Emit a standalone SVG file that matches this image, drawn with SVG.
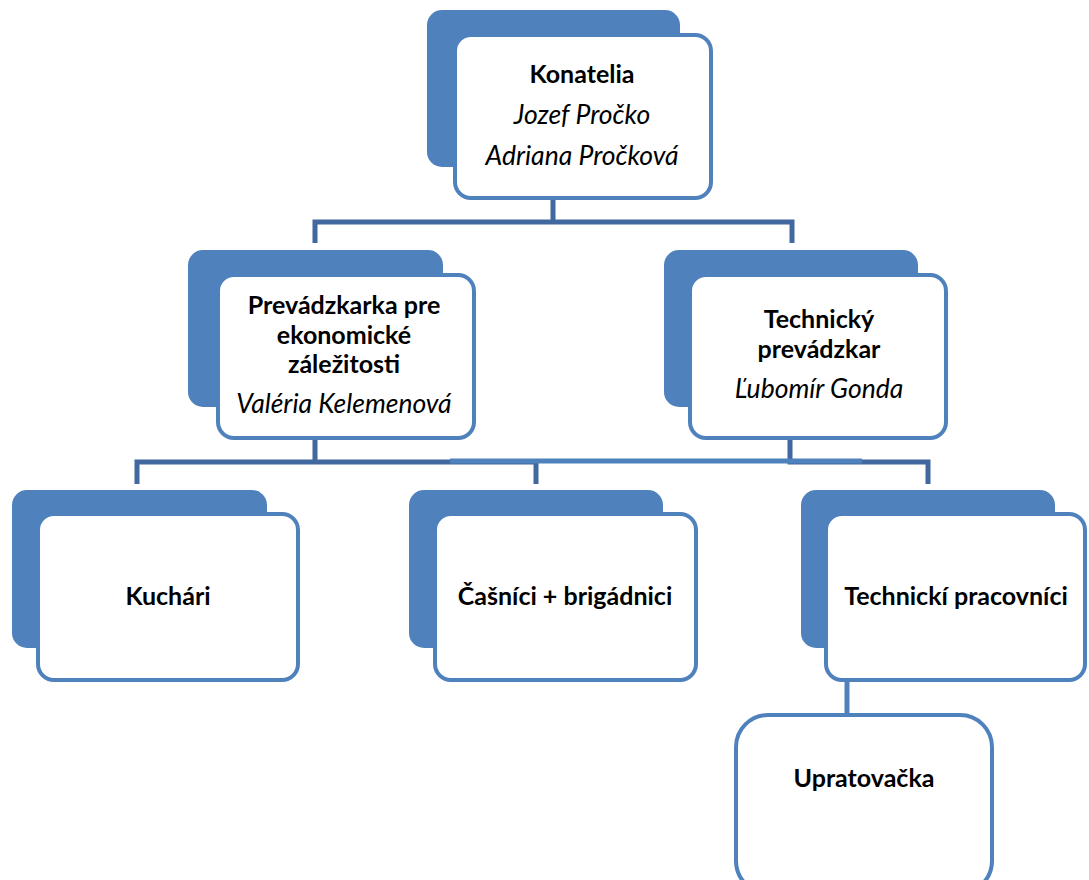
<svg xmlns="http://www.w3.org/2000/svg" width="1089" height="880" viewBox="0 0 1089 880">
<style>
.back{fill:#4f81bd}
.front{fill:#ffffff;stroke:#4f81bd;stroke-width:4}
.t{font-family:Lato,"Open Sans",sans-serif;font-size:25px;fill:#000;text-anchor:middle}
.b{font-weight:bold}
.i{font-style:italic;font-size:26.5px}
.conn{stroke:#4169a0;stroke-width:5;fill:none}
.conn2{stroke:#4f81bd;stroke-width:5;fill:none}
</style>
<rect width="1089" height="880" fill="#ffffff"/>
<g id="connectors">
<path class="conn" d="M553,200 V222 M315,243 V222 H792 V243"/>
<path class="conn" d="M315,440 V462 M137,484 V462 H536 V484 M790,440 V462 H928 V484"/>
<path class="conn2" d="M450,461 H862"/>
<path class="conn2" d="M847,680 V715"/>
</g>
<g id="konatelia">
<rect class="back" x="427" y="10" width="253" height="157" rx="15"/>
<rect class="front" x="455" y="35" width="256" height="163" rx="16"/>
<text class="t b" x="582" y="83">Konatelia</text>
<text class="t i" x="582" y="124">Jozef Pročko</text>
<text class="t i" x="582" y="165">Adriana Pročková</text>
</g>
<g id="prevadzkarka">
<rect class="back" x="188" y="250" width="255" height="157" rx="15"/>
<rect class="front" x="218" y="275" width="256" height="163" rx="16"/>
<text class="t b" x="344" y="314">Prevádzkarka pre</text>
<text class="t b" x="344" y="344">ekonomické</text>
<text class="t b" x="344" y="373">záležitosti</text>
<text class="t i" x="344" y="413">Valéria Kelemenová</text>
</g>
<g id="technicky">
<rect class="back" x="664" y="250" width="254" height="157" rx="15"/>
<rect class="front" x="690" y="275" width="256" height="163" rx="16"/>
<text class="t b" x="819" y="328">Technický</text>
<text class="t b" x="819" y="358">prevádzkar</text>
<text class="t i" x="819" y="398">Ľubomír Gonda</text>
</g>
<g id="kuchari">
<rect class="back" x="12" y="490" width="255" height="158" rx="15"/>
<rect class="front" x="38" y="514" width="260" height="166" rx="16"/>
<text class="t b" x="168" y="605">Kuchári</text>
</g>
<g id="casnici">
<rect class="back" x="409" y="490" width="254" height="158" rx="15"/>
<rect class="front" x="435" y="514" width="261" height="166" rx="16"/>
<text class="t b" x="565" y="605">Čašníci + brigádnici</text>
</g>
<g id="technicki">
<rect class="back" x="801" y="490" width="254" height="158" rx="15"/>
<rect class="front" x="826" y="514" width="259" height="166" rx="16"/>
<text class="t b" x="956" y="605">Technickí pracovníci</text>
</g>
<g id="upratovacka">
<rect class="front" x="736" y="715" width="256" height="178" rx="32" stroke-width="5"/>
<text class="t b" x="864" y="787">Upratovačka</text>
</g>
</svg>
